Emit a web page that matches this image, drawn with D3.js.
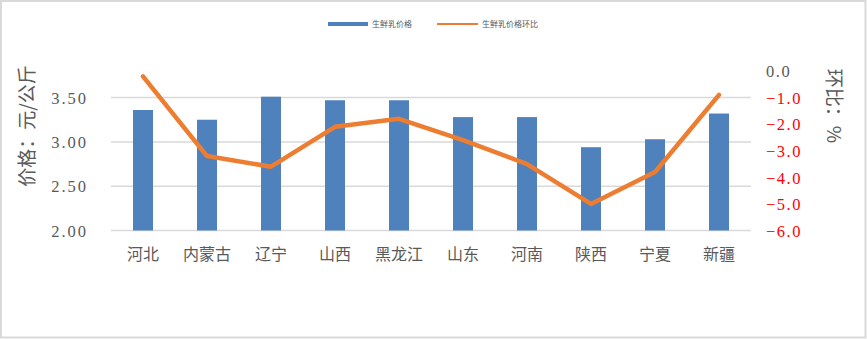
<!DOCTYPE html>
<html>
<head>
<meta charset="utf-8">
<script src="https://cdn.jsdelivr.net/npm/d3@7/dist/d3.min.js"></script>
<style>
  html, body { margin: 0; padding: 0; background: #fff; }
  svg { display: block; }
</style>
</head>
<body>
<svg id="chart" width="867" height="339"></svg>
<script>
// Provinces and raw-milk price data
const provinces = ["河北", "内蒙古", "辽宁", "山西", "黑龙江", "山东", "河南", "陕西", "宁夏", "新疆"];
const prices = [3.36, 3.25, 3.51, 3.47, 3.47, 3.28, 3.28, 2.94, 3.03, 3.32];      // 元/公斤
const momChange = [-0.2, -3.2, -3.6, -2.1, -1.8, -2.6, -3.5, -5.0, -3.8, -0.9];    // %
const priceTicks = [2.0, 2.5, 3.0, 3.5];
const changeTicks = [0, -1, -2, -3, -4, -5, -6];
const seriesNames = ["生鲜乳价格", "生鲜乳价格环比"];

const W = 867, H = 339;
const plot = { left: 111, right: 751, top: 71, bottom: 230.5 };

const svg = d3.select("#chart");
const serif = "'Liberation Serif', 'DejaVu Serif', serif";
const cjk = "'Noto Sans CJK SC', sans-serif";

// chart frame
svg.append("rect")
  .attr("x", 1).attr("y", 1).attr("width", W - 2.5).attr("height", H - 2.5)
  .attr("fill", "#fff").attr("stroke", "#d9d9d9").attr("stroke-width", 2);

const x = d3.scaleBand().domain(provinces).range([plot.left, plot.right]).paddingInner(0).paddingOuter(0);
const yL = d3.scaleLinear().domain([2.0, 3.8]).range([plot.bottom, plot.top]);
const yR = d3.scaleLinear().domain([-6, 0]).range([plot.bottom, plot.top]);

// horizontal gridlines
svg.append("g").selectAll("line").data(priceTicks).join("line")
  .attr("x1", plot.left).attr("x2", plot.right)
  .attr("y1", d => yL(d)).attr("y2", d => yL(d))
  .attr("stroke", "#d9d9d9").attr("stroke-width", 1.5);

// left axis tick labels
const leftAxis = d3.axisLeft(yL).tickValues(priceTicks).tickFormat(d3.format(".2f")).tickSize(0).tickPadding(0);
const gL = svg.append("g").attr("transform", `translate(${plot.left - 23},0)`).call(leftAxis);
gL.select(".domain").remove();
gL.selectAll("text")
  .attr("font-family", serif).attr("font-size", 16.5).attr("fill", "#595959")
  .attr("letter-spacing", 2).attr("dy", "0.35em");

// right axis tick labels
const rightAxis = d3.axisRight(yR).tickValues(changeTicks).tickFormat(d3.format(".1f")).tickSize(0).tickPadding(0);
const gR = svg.append("g").attr("transform", `translate(${plot.right + 15},0)`).call(rightAxis);
gR.select(".domain").remove();
gR.selectAll("text")
  .attr("font-family", serif).attr("font-size", 16.5)
  .attr("fill", d => d < 0 ? "#ff0000" : "#595959")
  .attr("letter-spacing", 1.5).attr("dy", "0.35em")
  .text(d => d < 0 ? "−" + d3.format(".1f")(-d) : d3.format(".1f")(d));

// bars
const barW = 20;
svg.append("g").selectAll("rect").data(provinces).join("rect")
  .attr("x", d => x(d) + x.bandwidth() / 2 - barW / 2)
  .attr("width", barW)
  .attr("y", (d, i) => yL(prices[i]))
  .attr("height", (d, i) => yL(2.0) - yL(prices[i]))
  .attr("fill", "#4f81bd");

// month-on-month line
const line = d3.line()
  .x((d, i) => x(provinces[i]) + x.bandwidth() / 2)
  .y(d => yR(d));
svg.append("path").datum(momChange)
  .attr("d", line)
  .attr("fill", "none").attr("stroke", "#ed7d31")
  .attr("stroke-width", 4.5).attr("stroke-linejoin", "round").attr("stroke-linecap", "round");

// category labels
const gX = svg.append("g").attr("transform", `translate(0,${plot.bottom})`)
  .call(d3.axisBottom(x).tickSize(0).tickPadding(0));
gX.select(".domain").remove();
gX.selectAll("text")
  .attr("font-family", cjk).attr("font-size", 16).attr("fill", "#595959")
  .attr("dy", 0).attr("y", 29);

// axis titles
svg.append("text")
  .attr("transform", "translate(34,126) rotate(-90)")
  .attr("text-anchor", "middle")
  .attr("font-family", cjk).attr("font-size", 19).attr("fill", "#595959")
  .text("价格：元/公斤");
svg.append("text")
  .attr("transform", "translate(827,106) rotate(90)")
  .attr("text-anchor", "middle")
  .attr("font-family", cjk).attr("font-size", 19).attr("fill", "#595959")
  .text("环比：%");

// legend
const legend = svg.append("g").attr("font-family", cjk).attr("font-size", 8).attr("fill", "#595959");
const legendItems = [
  { name: seriesNames[0], color: "#4f81bd", x0: 328, w: 40, sw: 4 },
  { name: seriesNames[1], color: "#ed7d31", x0: 437, w: 41, sw: 2 }
];
legendItems.forEach(item => {
  legend.append("line")
    .attr("x1", item.x0).attr("x2", item.x0 + item.w)
    .attr("y1", 24).attr("y2", 24)
    .attr("stroke", item.color).attr("stroke-width", item.sw);
  legend.append("text")
    .attr("x", item.x0 + item.w + 4).attr("y", 24).attr("dy", "0.35em")
    .text(item.name);
});
</script>
</body>
</html>
